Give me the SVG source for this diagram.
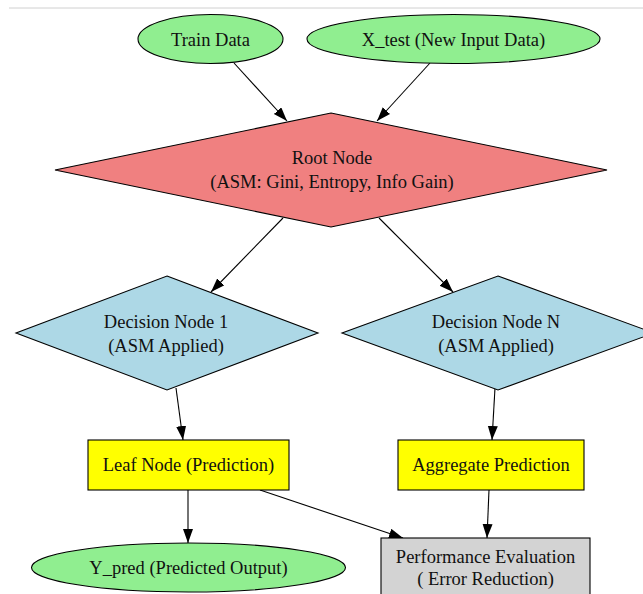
<svg xmlns="http://www.w3.org/2000/svg" width="643" height="594" viewBox="0 0 643 594">
<style>
  .n { stroke: #000; stroke-width: 1.1; }
  .e { stroke: #000; stroke-width: 1.1; fill: none; marker-end: url(#ah); }
  text { font-family: "Liberation Serif", "Times New Roman", serif; font-size: 18.5px; fill: #111; text-anchor: middle; }
  .green { fill: #90ee90; }
  .coral { fill: #f08080; }
  .blue { fill: #add8e6; }
  .yellow { fill: #ffff00; }
  .gray { fill: #d3d3d3; }
</style>
<defs>
  <marker id="ah" markerUnits="userSpaceOnUse" markerWidth="15" markerHeight="11" refX="14" refY="5" orient="auto">
    <path d="M0,0 L14,5 L0,10 z" fill="#000"/>
  </marker>
</defs>
<rect width="643" height="594" fill="#fff"/>
<line x1="9" y1="8" x2="643" y2="8" stroke="#d0d0d0" stroke-width="1"/>

<g id="edges">
  <line class="e" x1="234" y1="63" x2="287" y2="121"/>
  <line class="e" x1="430" y1="63" x2="377" y2="121"/>
  <line class="e" x1="283" y1="218" x2="211" y2="292"/>
  <line class="e" x1="379" y1="218" x2="453" y2="292"/>
  <line class="e" x1="176" y1="388" x2="183" y2="440"/>
  <line class="e" x1="495" y1="388" x2="492" y2="440"/>
  <line class="e" x1="188" y1="490" x2="188" y2="543"/>
  <line class="e" x1="260" y1="490" x2="403" y2="538"/>
  <line class="e" x1="489" y1="490" x2="487" y2="538"/>
</g>

<g id="train">
  <ellipse class="n green" cx="210.5" cy="39" rx="72.5" ry="24.5"/>
  <text x="210.5" y="45.5">Train Data</text>
</g>
<g id="xtest">
  <ellipse class="n green" cx="453.5" cy="39" rx="146.5" ry="24.5"/>
  <text x="453.5" y="45.5">X_test (New Input Data)</text>
</g>
<g id="root">
  <polygon class="n coral" points="331,113 607,170 331,227 55,170"/>
  <text x="332" y="164">Root Node</text>
  <text x="332" y="188">(ASM: Gini, Entropy, Info Gain)</text>
</g>
<g id="dn1">
  <polygon class="n blue" points="167,276 318,333 167,390 16,333"/>
  <text x="166" y="328">Decision Node 1</text>
  <text x="166" y="352">(ASM Applied)</text>
</g>
<g id="dnn">
  <polygon class="n blue" points="498,276 654,333 498,390 342,333"/>
  <text x="496" y="328">Decision Node N</text>
  <text x="496" y="352">(ASM Applied)</text>
</g>
<g id="leaf">
  <rect class="n yellow" x="88" y="440" width="201" height="50"/>
  <text x="188.5" y="471">Leaf Node (Prediction)</text>
</g>
<g id="agg">
  <rect class="n yellow" x="398" y="440" width="186" height="50"/>
  <text x="491" y="471">Aggregate Prediction</text>
</g>
<g id="ypred">
  <ellipse class="n green" cx="188.5" cy="567.5" rx="157" ry="24.5"/>
  <text x="188.5" y="574">Y_pred (Predicted Output)</text>
</g>
<g id="perf">
  <rect class="n gray" x="381" y="538" width="209" height="62"/>
  <text x="485.5" y="563">Performance Evaluation</text>
  <text x="485.5" y="585">( Error Reduction)</text>
</g>
</svg>
